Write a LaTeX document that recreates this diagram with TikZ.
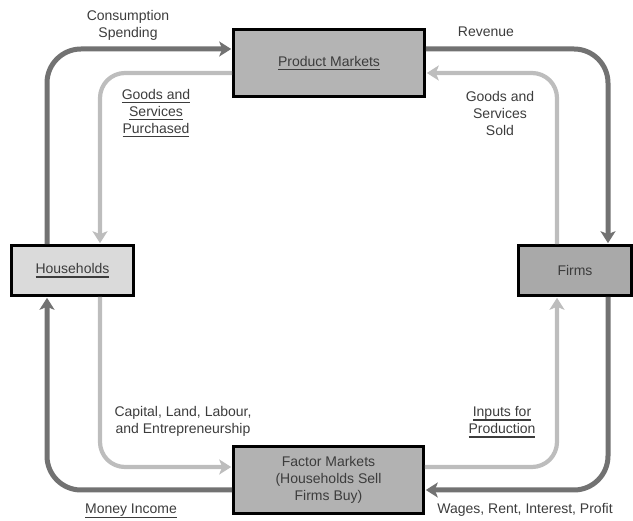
\documentclass[tikz,border=0pt]{standalone}
\usepackage{fontspec}
\setmainfont{Liberation Sans}
\usetikzlibrary{arrows.meta}
\definecolor{darkflow}{HTML}{727272}
\definecolor{lightflow}{HTML}{BDBDBD}
\definecolor{txt}{HTML}{3C3C3C}
\definecolor{pmfill}{HTML}{B4B4B4}
\definecolor{hhfill}{HTML}{DADADA}
\definecolor{firmfill}{HTML}{A9A9A9}
\definecolor{fmfill}{HTML}{B2B2B2}
\newcommand\myul[1]{\setbox0=\hbox{#1}\rlap{\rule[-4pt]{\wd0}{1.3pt}}\box0}
\tikzset{
  box/.style={draw=black, line width=2.6pt, inner sep=0pt, align=center, text=txt,
    font=\fontsize{14}{17}\selectfont},
  lbl/.style={align=center, text=txt, inner sep=0pt, font=\fontsize{14}{17}\selectfont},
  darkarrow/.style={draw=darkflow, line width=5pt, rounded corners=34pt,
    -{Stealth[length=12pt,width=15pt,inset=3pt]}, shorten >=1pt},
  lightarrow/.style={draw=lightflow, line width=4.2pt, rounded corners=25pt,
    -{Stealth[length=12pt,width=15pt,inset=3pt]}, shorten >=1pt},
}
\begin{document}
\begin{tikzpicture}[x=1pt,y=-1pt]
\useasboundingbox (0,0) rectangle (633,521);
% guide coordinates
\coordinate (xD1) at (47,0);
\coordinate (xL1) at (100,0);
\coordinate (xL2) at (557,0);
\coordinate (xD2) at (608,0);
\coordinate (yD1) at (0,49);
\coordinate (yL1) at (0,73);
\coordinate (yL2) at (0,467);
\coordinate (yD2) at (0,490);
% boxes
\node[box, fill=pmfill, minimum width=191pt, minimum height=67pt] (pm) at (329,63) {\myul{Product Markets}};
\node[box, fill=hhfill, minimum width=122pt, minimum height=50pt] (hh) at (72.5,270.5) {\myul{Households}};
\node[box, fill=firmfill, minimum width=113pt, minimum height=50pt] (firms) at (575,270.5) {Firms};
\node[box, fill=fmfill, minimum width=190pt, minimum height=67pt] (fm) at (328.5,480) {Factor Markets\\(Households Sell\\Firms Buy)};
% flows
\draw[darkarrow] (xD1 |- hh.north) |- (pm.west |- yD1);
\draw[darkarrow] (pm.east |- yD1) -| (xD2 |- firms.north);
\draw[lightarrow] (xL2 |- firms.north) |- (pm.east |- yL1);
\draw[lightarrow] (pm.west |- yL1) -| (xL1 |- hh.north);
\draw[lightarrow] (xL1 |- hh.south) |- (fm.west |- yL2);
\draw[darkarrow] (fm.west |- yD2) -| (xD1 |- hh.south);
\draw[lightarrow] (fm.east |- yL2) -| (xL2 |- firms.south);
\draw[darkarrow] (xD2 |- firms.south) |- (fm.east |- yD2);
% labels
\node[lbl] (lcons) at (128,25) {Consumption\\Spending};
\node[lbl] (lgsp) at (156,113) {\myul{Goods and}\\\myul{Services}\\\myul{Purchased}};
\node[lbl] (lrev) at (486,32) {Revenue};
\node[lbl] (lgss) at (500,113) {Goods and\\Services\\Sold};
\node[lbl] (lcap) at (183,421) {Capital, Land, Labour,\\and Entrepreneurship};
\node[lbl] (linp) at (502,422) {\myul{Inputs for}\\\myul{Production}};
\node[lbl] (lmon) at (131,511) {\myul{Money Income}};
\node[lbl] (lwag) at (525,510) {Wages, Rent, Interest, Profit};
\end{tikzpicture}
\end{document}
